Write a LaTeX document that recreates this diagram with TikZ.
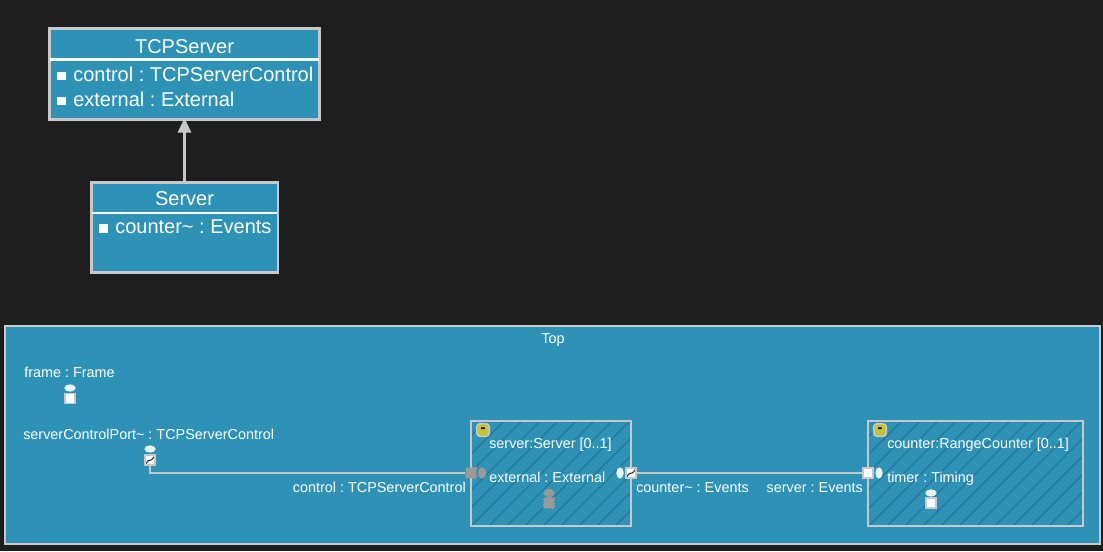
\documentclass[tikz,border=0pt]{standalone}
\usepackage{fontspec}
\setmainfont{Liberation Sans}
\usepackage{xcolor}
\usetikzlibrary{arrows.meta}
\usetikzlibrary{shapes.geometric}
\definecolor{canvasgray}{HTML}{1E1E1E}
\definecolor{capsuleblue}{HTML}{2D92B6}
\definecolor{edgegray}{HTML}{C8C8C8}
\definecolor{hatchblue}{HTML}{226F8E}
\definecolor{togglegreen}{HTML}{C4C43A}
\definecolor{portgray}{HTML}{999999}
\frenchspacing

\begin{document}
\begin{tikzpicture}[
        x=0.75pt, y=-0.75pt,
        classbox/.style={draw=edgegray, fill=capsuleblue, line width=1.6pt},
        partbox/.style={draw=edgegray, line width=1.4pt},
        divider/.style={draw=white, line width=1.6pt},
        connector/.style={draw=edgegray, line width=1.4pt},
        classname/.style={text=white, font=\fontsize{15}{18}\selectfont, inner sep=0pt, anchor=base},
        attrname/.style={text=white, font=\fontsize{15}{18}\selectfont, anchor=base west, inner sep=0pt},
        bullet/.style={fill=white, minimum size=6.5pt, inner sep=0pt, anchor=west},
        small/.style={text=white, font=\fontsize{10.8}{13}\selectfont, inner sep=0pt},
        hatchline/.style={hatchblue, line width=0.7pt},
        port/.style={rectangle, draw=edgegray, fill=white, line width=1.1pt, minimum size=7.5pt, inner sep=0pt},
        lollipop/.style={ellipse, fill=white!90!capsuleblue, inner sep=0pt},
        hpop/.style={lollipop, minimum width=8.5pt, minimum height=5.5pt},
        vpop/.style={lollipop, minimum width=5.5pt, minimum height=8.5pt},
        greyport/.style={port, draw=portgray, fill=portgray, densely dotted},
        greypop/.style={ellipse, inner sep=0pt, fill=portgray, draw=portgray, densely dotted, line width=0.6pt},
        conjport/.style={port, path picture={
            \draw[black!85, line width=0.8pt]
                ([shift={(-3.4pt,-3pt)}]path picture bounding box.center) -- ++(2.2pt,2.6pt)
                -- ++(2.4pt,0.5pt) -- ++(2.2pt,2.6pt);}},
        toggle/.style={rounded corners=2.5pt, draw=edgegray, fill=togglegreen, line width=1.1pt, minimum size=9.5pt, inner sep=0pt, font=\bfseries\fontsize{11}{11}\selectfont}
    ]
        \useasboundingbox (0,0) rectangle (1103,551);
        \fill[canvasgray] (0,0) rectangle (1103,551);

        % --- Class diagram ---
        \draw[classbox] (49.5,28.5) rectangle (319.5,119.5);
        \draw[divider] (50,59.5) -- (319,59.5);
        \node[classname] (tcpName) at (184.5,53) {TCPServer};
        \node[bullet] (controlMark) at (57,76) {};
        \node[attrname] (controlAttr) at (73,81) {control : TCPServerControl};
        \node[bullet] (externalMark) at (57,101) {};
        \node[attrname] (externalAttr) at (73,106) {external : External};

        \draw[classbox] (91.5,182.5) rectangle (278,272.5);
        \draw[divider] (92,213) -- (277,213);
        \node[classname] (serverName) at (184.5,205) {Server};
        \node[bullet] (counterMark) at (99,228.7) {};
        \node[attrname] (counterAttr) at (115,233) {counter\textasciitilde{} : Events};

        % Inheritance arrow
        \coordinate (serverTop) at (184.5,182);
        \coordinate (tcpBottom) at (184.5,118);
        \draw[connector, line width=1.6pt, -{Triangle[length=11pt, width=10pt, fill=edgegray]}] (serverTop) -- (tcpBottom);

        % --- Top capsule ---
        \draw[fill=capsuleblue, draw=edgegray, line width=1.4pt] (5,326) rectangle (1100,544);
        \node[small, anchor=base] (topName) at (553,343) {Top};

        % --- Hatched parts ---
        \begin{scope}
            \clip (471,421) rectangle (631,526);
            \foreach \d in {345,363,...,633}
                \draw[hatchline] (\d,526) -- ++(120,-120);
        \end{scope}
        \begin{scope}
            \clip (868,421) rectangle (1083,526);
            \foreach \d in {761,779,...,1085}
                \draw[hatchline] (\d,526) -- ++(120,-120);
        \end{scope}
        \draw[partbox] (471,421) rectangle (631,526);
        \draw[partbox] (868,421) rectangle (1083,526);
        \node[toggle] (serverToggle) at (483,430) {-};
        \node[toggle] (counterToggle) at (880,430) {-};

        % --- Ports on Top ---
        \node[small, anchor=base west] (frameName) at (24,377) {frame : Frame};
        \node[hpop] (framePop) at (70,388) {};
        \node[port] (framePort) at (70,398.5) {};

        \node[small, anchor=base west] (controlPortName) at (23,439) {serverControlPort\textasciitilde{} : TCPServerControl};
        \node[hpop] (controlPortPop) at (150,449) {};
        \node[conjport] (controlPort) at (150,460) {};

        % --- Ports of server ---
        \node[small, anchor=base west] (serverPart) at (489,448) {server:Server [0..1]};
        \node[small, anchor=base west] (externalName) at (489,482) {external : External};
        \node[greyport] (serverControl) at (471,473) {};
        \node[greypop, minimum width=6pt, minimum height=8pt] (serverControlPop) at (482,473) {};
        \node[greypop, minimum width=8pt, minimum height=6pt] (externalPop) at (549,493) {};
        \node[greyport] (externalPort) at (549,503) {};
        \node[vpop] (counterPop) at (620,473) {};
        \node[conjport] (counterConj) at (631,473) {};

        % --- Ports of counter ---
        \node[small, anchor=base west] (counterPart) at (887,448) {counter:RangeCounter [0..1]};
        \node[small, anchor=base west] (timerName) at (887,482) {timer : Timing};
        \node[port] (counterServer) at (868,473) {};
        \node[vpop] (counterServerPop) at (879,473) {};
        \node[hpop] (timerPop) at (931,493) {};
        \node[port] (timerPort) at (931,503) {};

        % --- Connectors ---
        \draw[connector] (controlPort.south) |- (serverControl.west);
        \draw[connector] (counterConj.east) -- (counterServer.west);

        \node[small, anchor=base east] (controlLabel) at (466,492) {control : TCPServerControl};
        \node[small, anchor=base west] (conjLabel) at (636,492) {counter\textasciitilde{} : Events};
        \node[small, anchor=base east] (serverLabel) at (863,492) {server : Events};
    \end{tikzpicture}
\end{document}
